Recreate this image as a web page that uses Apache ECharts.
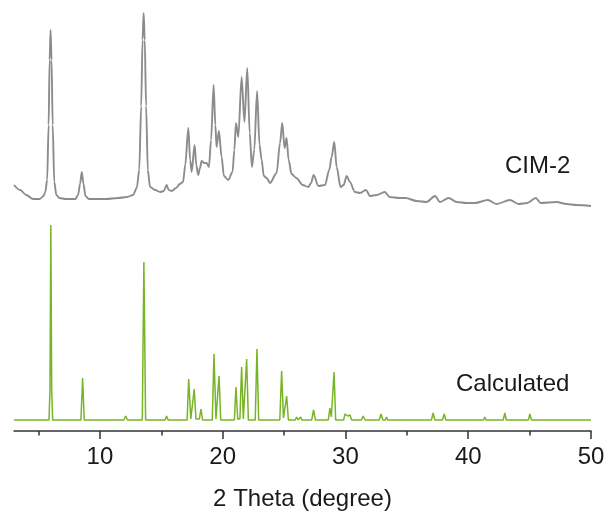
<!DOCTYPE html>
<html>
<head>
<meta charset="utf-8">
<script src="https://cdn.jsdelivr.net/npm/echarts@6/dist/echarts.min.js"></script>
<style>
  html, body { margin: 0; padding: 0; background: #fff; }
  #chart { width: 608px; height: 519px; }
</style>
</head>
<body>
<div id="chart"></div>
<script>
// X axis tick values (2 Theta, degree)
const majorTicks = [10, 20, 30, 40, 50];
const minorTicks = [5, 15, 25, 35, 45];

// Series labels
const seriesNames = ['CIM-2', 'Calculated'];

// Vertical offset of the measured pattern above the calculated one (intensity units)
const measuredOffset = 220;

// CIM-2 (measured) pattern: [2theta, intensity]
const cim2 = [
  [3.0,15],[3.5,10],[4.0,5],[4.55,1],[5.1,1],[5.4,4],[5.55,8],[5.7,20],[5.82,75],[5.9,140],[5.98,170],[6.06,140],
  [6.15,75],[6.28,18],[6.45,5],[6.7,2],
  [7.2,1],[8.0,1],[8.22,5],[8.38,16],[8.52,28],[8.66,16],[8.82,4],[9.1,1],[10.5,1],[11.5,2],[12.2,3],[12.7,5],
  [13.0,12],[13.2,30],[13.36,94],[13.47,160],[13.56,187],[13.65,160],[13.76,94],[13.9,30],[14.08,13],[14.5,10],[14.9,8],[15.2,9],
  [15.43,15],[15.6,10],[15.84,9],[16.2,12],[16.5,16],[16.77,18],[16.95,35],[17.2,72],[17.35,40],[17.47,28],
  [17.71,55],[17.85,35],[18.0,25],[18.15,32],[18.28,39],[18.5,37],[18.69,37],[18.88,33],[19.05,60],[19.26,115],
  [19.4,75],[19.5,53],[19.69,69],[19.91,43],[20.1,24],[20.45,20],[20.8,28],[20.95,50],[21.08,77],[21.27,63],
  [21.54,123],[21.77,78],[22.0,132],[22.2,67],[22.38,33],[22.57,50],[22.8,109],[23.0,55],[23.17,40],[23.35,24],
  [23.58,22],[23.85,17],[24.39,27],[24.67,57],[24.85,77],[25.04,52],[25.2,62],[25.37,40],[25.61,26],[26.0,22],
  [26.52,15],[26.97,13],[27.2,17],[27.4,25],[27.8,14],[28.33,15],[28.68,30],[28.87,43],[29.09,58],[29.28,33],
  [29.6,13],[29.85,15],[30.1,24],[30.36,18],[30.77,8],[31.18,7],[31.67,10],[32.0,4],[32.55,5],[33.2,8],[33.6,3],
  [34.4,2],[34.9,2],[35.8,-1],[36.6,-2],[37.3,4],[37.7,-2],[38.4,2],[39.06,-2],[39.87,-3],[40.55,-3],[41.6,0],
  [42.3,-4],[43.4,0],[44.1,-4],[44.8,-3],[45.5,2],[45.9,-3],[47.2,-2],[48.0,-4],[48.8,-5],[50.0,-6]
];

// Calculated pattern: [2theta, intensity]
const calculated = [
  [3,0],[5.85,0],[5.93,30],[6.0,195],[6.07,30],[6.15,0],
  [8.45,0],[8.59,42],[8.72,0],
  [11.95,0],[12.1,4],[12.25,0],[12.6,0],[12.7,1],[12.8,0],
  [13.45,0],[13.58,158],[13.72,0],
  [15.3,0],[15.43,4],[15.55,0],
  [17.1,0],[17.23,41],[17.4,1],[17.55,1],[17.68,31],[17.82,1],[18.1,1],[18.23,11],[18.36,0],
  [19.15,0],[19.29,66],[19.45,1],[19.58,1],[19.7,44],[19.84,0],
  [20.95,0],[21.08,33],[21.22,1],[21.4,1],[21.54,53],[21.68,1],[21.82,1],[21.95,61],[22.09,0],
  [22.65,0],[22.79,71],[22.93,0],
  [24.65,0],[24.8,49],[24.95,2],[25.08,2],[25.21,24],[25.35,0],
  [25.9,0],[26.02,3],[26.15,0],[26.25,0],[26.35,3],[26.45,0],
  [27.25,0],[27.4,10],[27.55,0],[28.0,0],[28.1,1],[28.2,0],
  [28.6,0],[28.73,12],[28.85,3],[28.95,3],[29.07,48],[29.2,0],
  [29.85,0],[29.96,6],[30.08,8],[30.2,4],[30.37,5],[30.5,0],
  [31.3,0],[31.44,4],[31.6,0],
  [32.75,0],[32.9,6],[33.05,0],[33.25,0],[33.35,3],[33.45,0],
  [35.15,0],[35.25,2],[35.35,0],
  [37.0,0],[37.14,7],[37.28,0],[37.9,0],[38.04,6],[38.18,0],
  [38.8,0],[38.9,2],[39.0,0],[39.6,0],[39.7,2],[39.8,0],
  [41.25,0],[41.35,3],[41.45,0],[41.8,0],[41.9,2],[42.0,0],
  [42.85,0],[42.98,7],[43.1,0],
  [44.9,0],[45.02,6],[45.15,0],[45.6,0],[45.7,2],[45.8,0],
  [46.65,0],[46.76,2],[46.87,0],[47.5,0],[47.57,2],[47.65,0],
  [48.3,0],[48.4,2],[48.5,0],[49.4,0],[49.5,2],[49.6,0],[50,0]
];

const FONT = "'Liberation Sans', Arial, sans-serif";
const chart = echarts.init(document.getElementById('chart'), null, { renderer: 'canvas' });

const cim2Shifted = cim2.map(p => [p[0], p[1] + measuredOffset]);

chart.setOption({
  animation: false,
  backgroundColor: '#ffffff',
  grid: { left: 14, right: 17, top: 10, bottom: 88 },
  xAxis: [
    {
      type: 'value', min: 3, max: 50, position: 'bottom',
      name: '2 Theta (degree)', nameLocation: 'middle', nameGap: 56,
      nameTextStyle: { fontFamily: FONT, fontSize: 24, color: '#1a1a1a' },
      axisLine: { show: true, onZero: false, lineStyle: { color: '#333', width: 1.5 } },
      axisTick: { show: true, inside: false, length: 8, customValues: majorTicks, lineStyle: { color: '#333', width: 1.5 } },
      axisLabel: { show: true, margin: 14, customValues: majorTicks, fontFamily: FONT, fontSize: 24, color: '#1a1a1a' },
      splitLine: { show: false }
    },
    {
      type: 'value', min: 3, max: 50, position: 'bottom', gridIndex: 0,
      axisLine: { show: false, onZero: false },
      axisTick: { show: true, inside: false, length: 4.5, customValues: minorTicks, lineStyle: { color: '#333', width: 1.5 } },
      axisLabel: { show: false },
      splitLine: { show: false }
    }
  ],
  yAxis: {
    type: 'value', min: -11, max: 410, show: false,
    splitLine: { show: false }
  },
  series: [
    {
      name: seriesNames[0], type: 'line', xAxisIndex: 0, data: cim2Shifted,
      showSymbol: false, symbol: 'none', smooth: 0.3, smoothMonotone: 'x',
      lineStyle: { color: '#8c8c8c', width: 1.9 }, silent: true
    },
    {
      name: seriesNames[1], type: 'line', xAxisIndex: 0, data: calculated,
      showSymbol: false, symbol: 'none',
      lineStyle: { color: '#78b526', width: 1.5 }, silent: true
    }
  ],
  graphic: [
    { type: 'text', left: 505, top: 154, style: { text: seriesNames[0], font: '24px ' + FONT, fill: '#1a1a1a' } },
    { type: 'text', left: 456, top: 372, style: { text: seriesNames[1], font: '24px ' + FONT, fill: '#1a1a1a' } }
  ]
});
</script>
</body>
</html>
